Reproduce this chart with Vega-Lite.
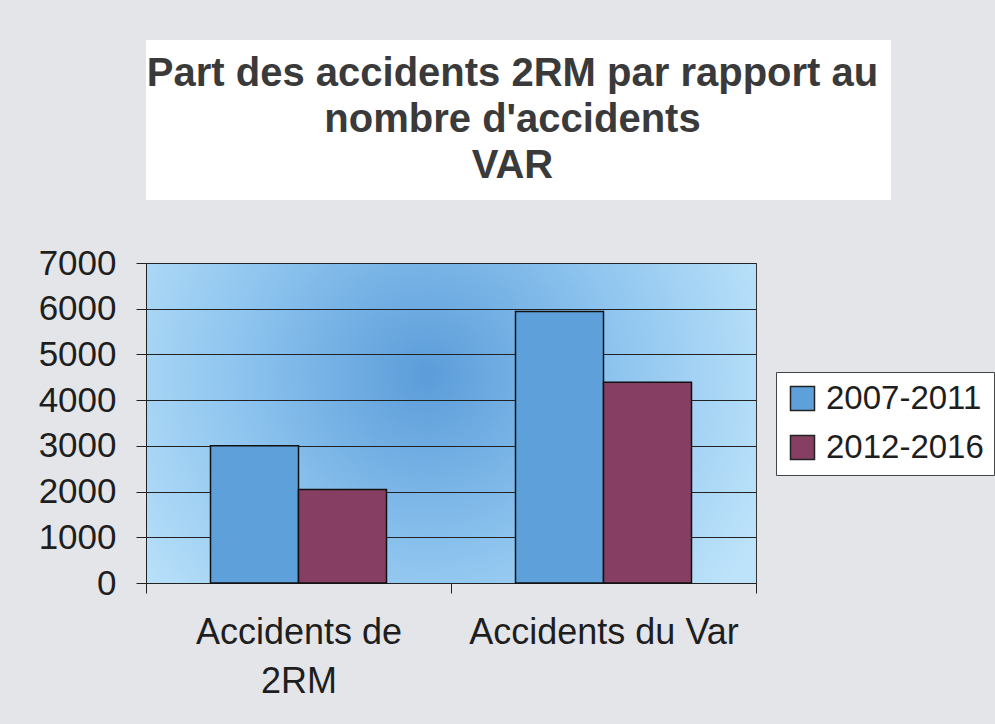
{
  "$schema": "https://vega.github.io/schema/vega-lite/v6.json",
  "background": "#e3e5e9",
  "padding": {"left": 37, "top": 40, "right": 0, "bottom": 40},
  "bounds": "flush",
  "spacing": 63,
  "config": {"font": "Liberation Sans", "view": {"stroke": null}},
  "vconcat": [
    {
      "width": 745,
      "height": 160,
      "view": {"fill": "white", "stroke": null},
      "data": {"values": [{"titre": "Part des accidents 2RM par rapport au\nnombre d'accidents\nVAR"}]},
      "mark": {"type": "text", "fontSize": 40, "fontWeight": "bold", "color": "#3a3a3a", "lineBreak": "\n", "lineHeight": 46, "baseline": "middle", "align": "center", "dy": -46, "dx": -6},
      "encoding": {"text": {"field": "titre"}}
    },
    {
      "width": 610,
      "height": 320,
      "view": {
        "fill": {"gradient": "radial", "x1": 0.46, "y1": 0.42, "r1": 0, "x2": 0.46, "y2": 0.42, "r2": 0.6,
          "stops": [{"offset": 0, "color": "#5b9cd9"}, {"offset": 0.5, "color": "#8cc3ee"}, {"offset": 1, "color": "#bde3fa"}]},
        "stroke": "#333"
      },
      "data": {"values": [
        {"categorie": "Accidents de 2RM", "periode": "2007-2011", "accidents": 3000},
        {"categorie": "Accidents de 2RM", "periode": "2012-2016", "accidents": 2045},
        {"categorie": "Accidents du Var", "periode": "2007-2011", "accidents": 5940},
        {"categorie": "Accidents du Var", "periode": "2012-2016", "accidents": 4390}
      ]},
      "mark": {"type": "bar", "stroke": "#111", "strokeWidth": 1.5},
      "encoding": {
        "x": {
          "field": "categorie", "type": "nominal", "sort": null,
          "scale": {"paddingInner": 0, "paddingOuter": 0},
          "axis": {
            "title": null, "labelAngle": 0, "labelFontSize": 36, "labelColor": "#1e1e1e",
            "labelExpr": "datum.value == 'Accidents de 2RM' ? ['Accidents de', '2RM'] : datum.value",
            "labelLineHeight": 49, "labelPadding": 22, "labelLimit": 400,
            "tickBand": "extent", "tickSize": 10, "tickColor": "#222", "domainColor": "#222"
          }
        },
        "xOffset": {"field": "periode", "sort": null, "scale": {"paddingInner": 0, "paddingOuter": 0.733}},
        "y": {
          "field": "accidents", "type": "quantitative",
          "scale": {"domain": [0, 7000]},
          "axis": {
            "title": null, "values": [0, 1000, 2000, 3000, 4000, 5000, 6000, 7000], "format": "d",
            "labelFontSize": 35, "labelColor": "#1e1e1e", "labelPadding": 20,
            "tickSize": 10, "tickColor": "#222", "domainColor": "#222",
            "grid": true, "gridColor": "#222", "gridOpacity": 1, "gridWidth": 1
          }
        },
        "color": {
          "field": "periode", "type": "nominal", "sort": null,
          "scale": {"domain": ["2007-2011", "2012-2016"], "range": ["#5da0da", "#863f62"]},
          "legend": {
            "title": null, "orient": "none", "legendX": 630, "legendY": 109,
            "fillColor": "white", "strokeColor": "#444", "padding": 10,
            "labelFontSize": 33, "labelColor": "#1e1e1e", "labelOffset": 7, "labelLimit": 400,
            "symbolType": "square", "symbolSize": 576, "symbolStrokeColor": "#222", "symbolStrokeWidth": 1.5,
            "rowPadding": 15
          }
        }
      }
    }
  ],
  "resolve": {"legend": {"color": "independent"}}
}
